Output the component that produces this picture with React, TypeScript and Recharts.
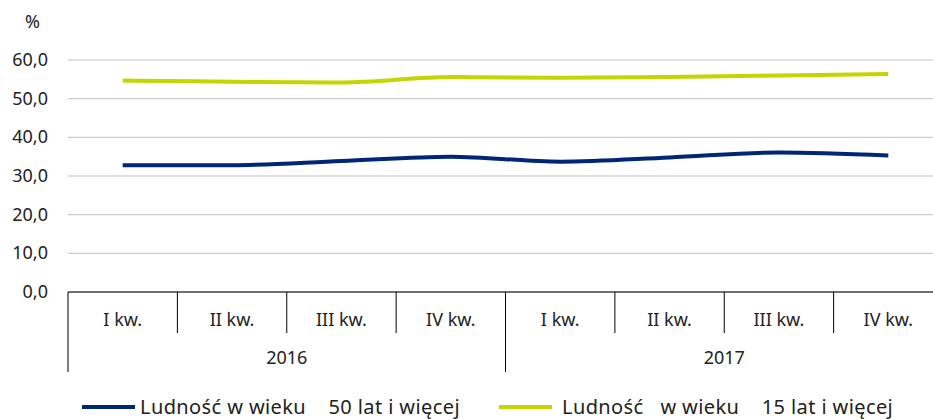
import React from 'react';
import { LineChart, Line, XAxis, YAxis, CartesianGrid, Legend } from 'recharts';

const quarters = ['I kw.', 'II kw.', 'III kw.', 'IV kw.', 'I kw.', 'II kw.', 'III kw.', 'IV kw.'];
const years = ['2016', '2016', '2016', '2016', '2017', '2017', '2017', '2017'];
const age50 = [32.8, 32.8, 33.9, 35.0, 33.7, 34.8, 36.1, 35.3];
const age15 = [54.7, 54.4, 54.2, 55.6, 55.4, 55.6, 56.0, 56.4];
const yTicks = [0, 10, 20, 30, 40, 50, 60];
const seriesNames = ['Ludność w wieku    50 lat i więcej', 'Ludność   w wieku    15 lat i więcej'];
const seriesColors = ['#002776', '#c3d600'];

const data = quarters.map((q, i) => ({
  key: i,
  quarter: q,
  year: years[i],
  a50: age50[i],
  a15: age15[i],
}));

const CHART_W = 943;
const CHART_H = 419;
const LEFT = 68;
const BW = (CHART_W - LEFT) / quarters.length;
const FONT = '"Noto Sans", "Open Sans", sans-serif';

const XTick = (props: any) => {
  const { x, y, index } = props;
  const d = data[index];
  const left = x - BW / 2;
  const isYearStart = index % 4 === 0;
  const isYearMid = index % 4 === 1;
  const isLast = index === data.length - 1;
  return (
    <g>
      <line x1={left} y1={y} x2={left} y2={y + (isYearStart ? 80 : 41)} stroke="#000" strokeWidth={1} />
      {isLast && <line x1={x + BW / 2} y1={y} x2={x + BW / 2} y2={y + 80} stroke="#000" strokeWidth={1} />}
      <text x={x} y={y + 34} textAnchor="middle" fill="#222" fontSize={18} fontFamily={FONT}>
        {d.quarter}
      </text>
      {isYearMid && (
        <text x={x + BW / 2} y={y + 72} textAnchor="middle" fill="#222" fontSize={18} fontFamily={FONT}>
          {d.year}
        </text>
      )}
    </g>
  );
};

const YTick = (props: any) => {
  const { y, payload } = props;
  return (
    <text x={48} y={y + 6} textAnchor="end" fill="#222" fontSize={18} fontFamily={FONT}>
      {payload.value.toFixed(1).replace('.', ',')}
    </text>
  );
};

const LegendContent = () => {
  const lefts = [82, 499];
  const gaps = [5, 10];
  return (
    <div style={{ position: 'relative', height: 37, width: CHART_W }}>
      {seriesNames.map((name, i) => (
        <div
          key={i}
          style={{
            position: 'absolute',
            left: lefts[i],
            top: 13,
            display: 'flex',
            alignItems: 'center',
            whiteSpace: 'pre',
            fontFamily: FONT,
            fontSize: 20,
            letterSpacing: 0.4,
            color: '#222',
            lineHeight: '24px',
          }}
        >
          <span style={{ display: 'inline-block', width: 53, height: 4, background: seriesColors[i], marginRight: gaps[i] }} />
          <span>{name}</span>
        </div>
      ))}
    </div>
  );
};

export default function App() {
  return (
    <div style={{ position: 'absolute', left: 0, top: 0, width: 933, height: 419, overflow: 'hidden', background: '#fff' }}>
      <LineChart width={CHART_W} height={CHART_H} data={data} margin={{ top: 60, right: 0, bottom: 0, left: 0 }}>
        <CartesianGrid horizontal vertical={false} stroke="#bfbfbf" />
        <XAxis
          dataKey="key"
          scale="band"
          type="category"
          height={90}
          tickSize={0}
          tickMargin={0}
          tickLine={false}
          axisLine={{ stroke: '#000', strokeWidth: 1 }}
          tick={<XTick />}
          interval={0}
        />
        <YAxis
          width={LEFT}
          domain={[0, 60]}
          ticks={yTicks}
          tickLine={false}
          axisLine={false}
          tick={<YTick />}
          interval={0}
          label={{ value: '%', position: 'insideTopLeft', content: () => (
            <text x={25} y={28} fill="#222" fontSize={18} fontFamily={FONT}>%</text>
          ) }}
        />
        <Legend verticalAlign="bottom" align="left" content={<LegendContent />} wrapperStyle={{ left: 0, bottom: 0 }} />
        <Line type="monotone" dataKey="a50" name={seriesNames[0]} stroke={seriesColors[0]} strokeWidth={4} dot={false} isAnimationActive={false} />
        <Line type="monotone" dataKey="a15" name={seriesNames[1]} stroke={seriesColors[1]} strokeWidth={4} dot={false} isAnimationActive={false} />
      </LineChart>
    </div>
  );
}
